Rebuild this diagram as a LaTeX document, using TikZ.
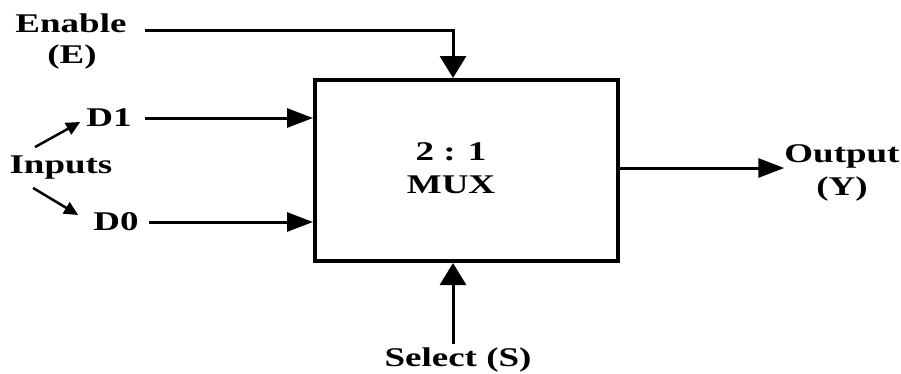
\documentclass[tikz,border=0pt]{standalone}
\usepackage{fontspec}
\setmainfont{Liberation Serif}[FakeStretch=1.37]
\usetikzlibrary{arrows.meta,calc}
\tikzset{
    lbl/.style={inner sep=0pt, align=center, font=\fontsize{27}{33}\selectfont\bfseries},
    blk/.style={rectangle, draw, line width=4pt, minimum width=303pt, minimum height=181pt},
    flow/.style={-{Triangle[length=26pt,width=19pt]}, line width=3pt},
    vflow/.style={-{Triangle[length=22pt,width=26pt]}, line width=3pt},
    pick/.style={-{Triangle[length=14pt,width=13pt]}, line width=2.5pt},
}
\begin{document}
\begin{tikzpicture}[x=1pt, y=-1pt]
    \useasboundingbox[fill=white] (0,0) rectangle (901,373);

    \node[blk] (mux) at (466.5,170.5) {};
    \node[lbl] (name) at (451,168) {2 : 1\\MUX};
    \coordinate (sx) at (453,0);

    \node[lbl] (en) at (71,23) {Enable};
    \node[lbl] (ebar) at (72,57) {(E)};
    \node[lbl] (d1) at (109,118) {D1};
    \node[lbl] (d0) at (116,222) {D0};
    \node[lbl] (inp) at (61,168) {Inputs};
    \node[lbl] (out) at (842,173) {Output\\(Y)};
    \node[lbl] (sel) at (458,360) {Select (S)};

    \draw[vflow] ($(en.east)+(18,7)$) -| (mux.north -| sx);
    \draw[flow] ($(d1.east)+(13,0)$) -- (d1 -| mux.west);
    \draw[flow] ($(d0.east)+(10,0)$) -- (d0 -| mux.west);
    \draw[pick] ($(inp.north)+(-26,-9)$) -- ($(d1.west)+(-6,4)$);
    \draw[pick] ($(inp.south)+(-28,8)$) -- ($(d0.west)+(-15,-7)$);
    \draw[flow] ($(mux.east |- out)+(0,-5)$) -- ($(out.west)+(0,-5)$);
    \draw[vflow] ($(sel.north -| sx)+(0,-4)$) -- (mux.south -| sx);
\end{tikzpicture}
\end{document}
